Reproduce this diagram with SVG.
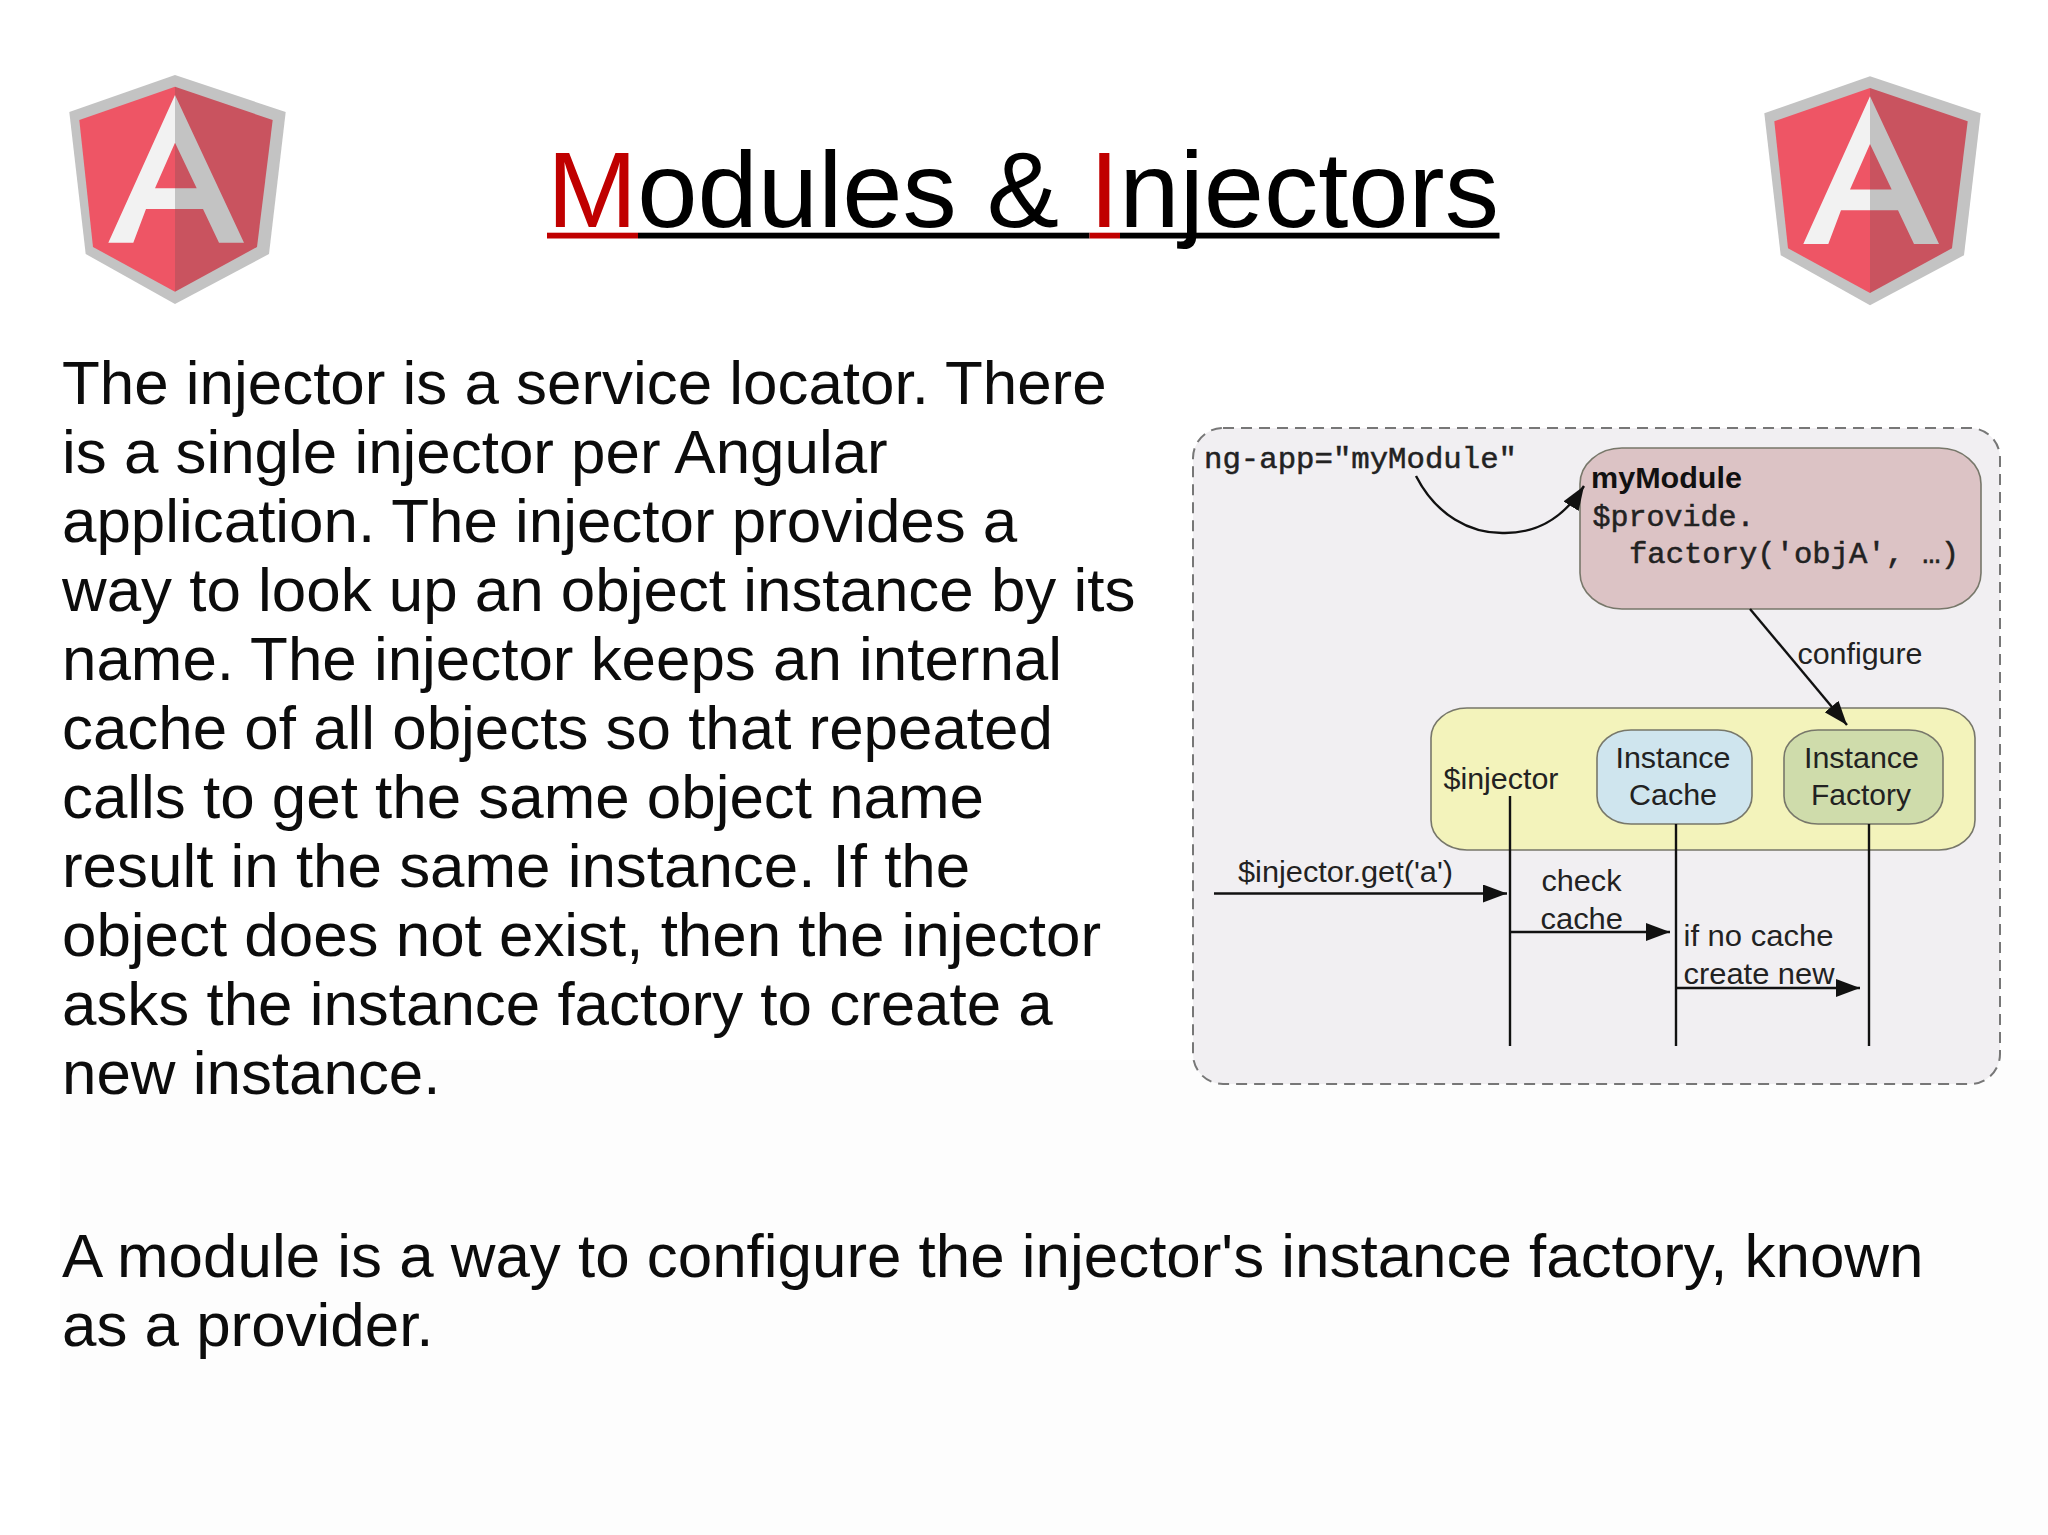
<svg xmlns="http://www.w3.org/2000/svg" width="2048" height="1535" viewBox="0 0 2048 1535">
<style>
text{font-family:"Liberation Sans",Arial,sans-serif;fill:#111}
.body{font-size:61.9px;fill:#0c0c0c}
.title{font-size:108.4px;fill:#000}
.red{fill:#c00000}
.lab{font-size:29px;fill:#222}
.mono{font-family:"Liberation Mono","Courier New",monospace;font-size:29px;fill:#222;stroke:#222;stroke-width:.5}
.box{stroke:#77776a;stroke-width:1.6}
.conn{fill:none;stroke:#111;stroke-width:2.4}
</style>
<defs>
<marker id="ah" markerUnits="userSpaceOnUse" markerWidth="26" markerHeight="20" refX="24" refY="9" orient="auto"><path d="M0 0L24 9L0 18Z" fill="#111"/></marker>
<g id="logo">
<path d="M175 75L285.700 112L269 254L175 304L85.700 254L69.300 112Z" fill="#c3c3c3"/>
<path d="M175 86.700V291.700L93 247L79.300 120Z" fill="#ee5565"/>
<path d="M175 86.700V291.700L257 247L272.700 120Z" fill="#c9535f"/>
<path d="M175 95L108.300 242.700H133.300L146 209H175V188.300H155L175 142.700Z" fill="#f2f2f2"/>
<path d="M175 95L244 242.700H219L203 209H175V188.300H196.700L175 142.700Z" fill="#c3c3c3"/>
</g>
</defs>
<rect width="2048" height="1535" fill="#fff"/>
<rect x="60" y="1060" width="1988" height="475" fill="#fdfdfd"/>
<g id="logo-left"><use href="#logo"/></g>
<g id="logo-right"><use href="#logo" x="1695" y="1.300"/></g>
<g id="title">
<text class="title" x="547" y="227"><tspan class="red">M</tspan>odules &amp; <tspan class="red">I</tspan>njectors</text>
<rect x="547" y="232.700" width="91" height="5.800" fill="#c00000"/>
<rect x="638" y="232.700" width="451.500" height="5.800" fill="#000"/>
<rect x="1089.500" y="232.700" width="30.500" height="5.800" fill="#c00000"/>
<rect x="1120" y="232.700" width="379.500" height="5.800" fill="#000"/>
</g>
<g id="paragraph-1">
<text class="body" x="62" y="403.500">The injector is a service locator. There</text>
<text class="body" x="62" y="472.500">is a single injector per Angular</text>
<text class="body" x="62" y="541.500">application. The injector provides a</text>
<text class="body" x="62" y="611">way to look up an object instance by its</text>
<text class="body" x="62" y="680">name. The injector keeps an internal</text>
<text class="body" x="62" y="749">cache of all objects so that repeated</text>
<text class="body" x="62" y="818">calls to get the same object name</text>
<text class="body" x="62" y="887">result in the same instance. If the</text>
<text class="body" x="62" y="956">object does not exist, then the injector</text>
<text class="body" x="62" y="1025">asks the instance factory to create a</text>
<text class="body" x="62" y="1094">new instance.</text>
</g>
<g id="paragraph-2">
<text class="body" x="62" y="1276.500">A module is a way to configure the injector's instance factory, known</text>
<text class="body" x="62" y="1345.500">as a provider.</text>
</g>
<g id="scope">
<rect x="1193" y="428" width="807" height="656" rx="30" ry="30" fill="#f1eff2" stroke="#777" stroke-width="2" stroke-dasharray="11 7"/>
<text class="mono" x="1204" y="468" textLength="313" lengthAdjust="spacingAndGlyphs">ng-app="myModule"</text>
</g>
<g id="myModule">
<rect class="box" x="1580" y="448" width="401" height="161" rx="42" ry="36" fill="#dcc3c5"/>
<text x="1591" y="488" font-size="29" font-weight="700" fill="#222" textLength="151" lengthAdjust="spacingAndGlyphs">myModule</text>
<text class="mono" x="1592.500" y="526" textLength="162" lengthAdjust="spacingAndGlyphs">$provide.</text>
<text class="mono" x="1629" y="563" textLength="330" lengthAdjust="spacingAndGlyphs">factory('objA', …)</text>
</g>
<g id="injector">
<rect class="box" x="1431" y="708" width="544" height="142" rx="36" ry="30" fill="#f3f3bb"/>
<text class="lab" x="1443.500" y="788.500" textLength="115" lengthAdjust="spacingAndGlyphs">$injector</text>
</g>
<g id="instance-cache">
<rect class="box" x="1597" y="730" width="155" height="94" rx="34" ry="28" fill="#cfe5ee"/>
<text class="lab" x="1615.500" y="768" textLength="115" lengthAdjust="spacingAndGlyphs">Instance</text>
<text class="lab" x="1629" y="805" textLength="88" lengthAdjust="spacingAndGlyphs">Cache</text>
</g>
<g id="instance-factory">
<rect class="box" x="1784" y="730" width="159" height="94" rx="34" ry="28" fill="#cfdcab"/>
<text class="lab" x="1804" y="768" textLength="115" lengthAdjust="spacingAndGlyphs">Instance</text>
<text class="lab" x="1811" y="805" textLength="100" lengthAdjust="spacingAndGlyphs">Factory</text>
</g>
<g id="connectors">
<path class="conn" d="M1416 476C1436 515 1470 534 1505 533C1542 533 1566 514 1584 486" marker-end="url(#ah)"/>
<path class="conn" d="M1750 609L1847 725" marker-end="url(#ah)"/>
<path class="conn" d="M1510 796V1046"/>
<path class="conn" d="M1676 824V1046"/>
<path class="conn" d="M1869 824V1046"/>
<path class="conn" d="M1214 893.500H1507" marker-end="url(#ah)"/>
<path class="conn" d="M1510 932H1670" marker-end="url(#ah)"/>
<path class="conn" d="M1675 988H1860" marker-end="url(#ah)"/>
</g>
<g id="connector-labels">
<text class="lab" x="1797.500" y="663.500" textLength="125" lengthAdjust="spacingAndGlyphs">configure</text>
<text class="lab" x="1238" y="882" textLength="215" lengthAdjust="spacingAndGlyphs">$injector.get('a')</text>
<text class="lab" x="1541.500" y="891" textLength="80" lengthAdjust="spacingAndGlyphs">check</text>
<text class="lab" x="1540.500" y="929" textLength="82.500" lengthAdjust="spacingAndGlyphs">cache</text>
<text class="lab" x="1683.500" y="945.500" textLength="150" lengthAdjust="spacingAndGlyphs">if no cache</text>
<text class="lab" x="1683.500" y="983.500" textLength="151" lengthAdjust="spacingAndGlyphs">create new</text>
</g>
</svg>
